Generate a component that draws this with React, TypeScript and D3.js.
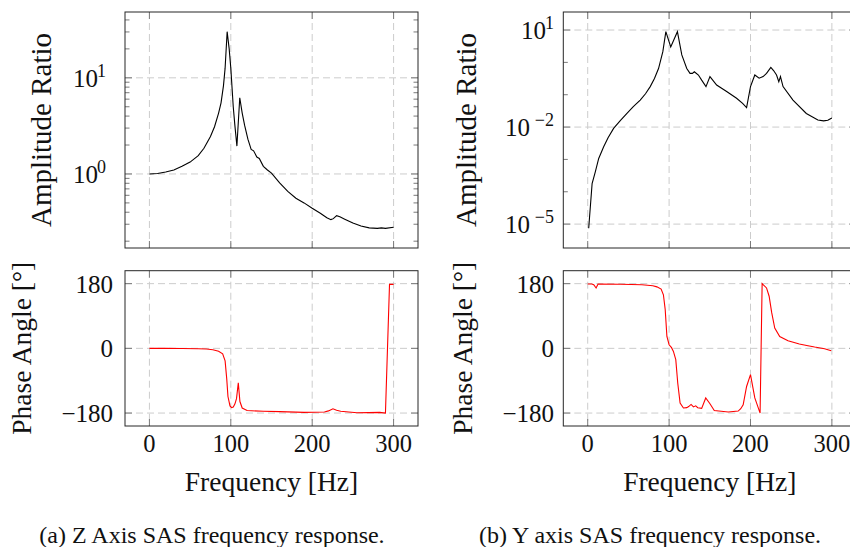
import React from "react";
import * as d3 from "d3";

// ---------- data ----------
const xTicks = [0, 100, 200, 300];
const phaseTicks = [-180, 0, 180];
const zAmpTickExps = [0, 1];
const yAmpTickExps = [-5, -2, 1];

// Z axis amplitude
const zAmpFreq = [0, 10, 20, 30, 40, 50, 60, 67, 75, 80, 85, 88, 91, 93, 95.5, 98, 100, 103, 105, 107.5, 111, 114, 117, 121, 125, 128, 132, 135, 140, 145, 150, 160, 170, 180, 190, 200, 210, 218, 223, 226, 230, 234, 240, 250, 260, 270, 280, 285, 290, 300];
const zAmp = [1.0, 1.01, 1.05, 1.1, 1.2, 1.33, 1.55, 1.85, 2.45, 3.1, 4.3, 5.5, 8.3, 12.6, 30.2, 20, 12.6, 5.0, 3.2, 1.95, 6.2, 4.3, 3.2, 2.3, 1.8, 1.74, 1.5, 1.45, 1.2, 1.1, 1.02, 0.81, 0.66, 0.56, 0.5, 0.44, 0.39, 0.35, 0.335, 0.343, 0.368, 0.359, 0.339, 0.309, 0.288, 0.275, 0.272, 0.275, 0.272, 0.279];

// Z axis phase
const zPhaseFreq = [0, 20, 40, 60, 70, 78, 85, 90, 93, 95, 96.5, 99, 101, 103, 105, 107, 109.2, 111.2, 114, 120, 140, 160, 190, 215, 220, 225.5, 230, 235, 255, 283, 290, 295, 300];
const zPhase = [0, -0.2, -0.5, -1, -2, -4, -8, -15, -35, -85, -134, -160, -165, -163, -155, -140, -96, -148, -166, -173, -175, -176, -178, -177, -174, -168, -172, -175, -179, -178, -180, 178, 178];

// Y axis amplitude
const yAmpFreq = [1.2, 5.4, 9.4, 13.5, 19.6, 25, 31.8, 40, 48.2, 56, 64.5, 71, 76.8, 82, 87, 92.3, 96, 102, 110.2, 115.6, 121.7, 125.7, 128.6, 131, 136, 140, 145.3, 150.2, 158.4, 170.7, 182.9, 190.3, 195.2, 200, 205.3, 210.6, 215.5, 219.7, 225, 228.6, 232, 234.8, 236.8, 240, 252.2, 268.6, 282.8, 289.8, 295, 300];
const yAmp = [7.4e-6, 1.8e-4, 4.2e-4, 1.07e-3, 2.45e-3, 4.7e-3, 9.1e-3, 0.0158, 0.0263, 0.0427, 0.0684, 0.107, 0.178, 0.316, 0.646, 2.14, 8.9, 3.0, 8.9, 1.7, 0.646, 0.457, 0.457, 0.513, 0.407, 0.282, 0.178, 0.363, 0.2, 0.126, 0.0776, 0.0537, 0.0398, 0.178, 0.407, 0.324, 0.363, 0.457, 0.7, 0.55, 0.407, 0.251, 0.363, 0.178, 0.0684, 0.0263, 0.0166, 0.0155, 0.0162, 0.019];

// Y axis phase
const yPhaseFreq = [0, 5, 7.4, 10.3, 12.7, 40, 66.6, 80, 85, 90.2, 93, 95.2, 97.3, 100, 103, 105.3, 108.2, 110.6, 113.5, 117.6, 121.7, 124, 127, 129.9, 132.7, 135.2, 140, 145, 150.2, 155.5, 172.6, 184.9, 188, 191, 195.2, 200, 205.3, 211.8, 214.3, 219.7, 222.9, 226, 229.8, 235.9, 246.1, 260, 270.6, 278.8, 291, 299.2];
const yPhase = [179, 179, 177, 168, 179, 178.5, 177, 174, 171, 165, 149, 108, 33, 10, 2, -8.5, -31.6, -96.5, -152, -166, -165, -162, -156, -163, -160, -165, -167, -138, -154, -173, -177, -174.5, -168, -157, -106, -73, -138, -180, 180, 168, 145, 100, 56.6, 33, 21, 12, 7.4, 3.7, -1, -6.5];

const ampLabel = "Amplitude Ratio";
const phaseLabel = "Phase Angle [°]";
const xLabel = "Frequency [Hz]";
const captions = ["(a) Z Axis SAS frequency response.", "(b) Y axis SAS frequency response."];

// ---------- layout ----------
const W = 850, H = 547;
const FONT = "Liberation Serif";
const GRID = "#cccccc";
const TICK = "#7a7a7a";
const FRAME = "#262626";

type Col = {
  x0: number; x1: number;
  ampF: number[]; amp: number[]; ampExps: number[]; minorEveryDecade: boolean;
  phF: number[]; ph: number[];
  ampTickRight: number; phTickRight: number;
  ampLabelX: number; phLabelX: number;
  caption: string; captionX: number;
};

const cols: Col[] = [
  { x0: 125, x1: 418, ampF: zAmpFreq, amp: zAmp, ampExps: zAmpTickExps, minorEveryDecade: true,
    phF: zPhaseFreq, ph: zPhase, ampTickRight: 106, phTickRight: 113, ampLabelX: 51, phLabelX: 31,
    caption: captions[0], captionX: 212 },
  { x0: 563.3, x1: 856.3, ampF: yAmpFreq, amp: yAmp, ampExps: yAmpTickExps, minorEveryDecade: false,
    phF: yPhaseFreq, ph: yPhase, ampTickRight: 554, phTickRight: 554, ampLabelX: 476, phLabelX: 472,
    caption: captions[1], captionX: 650 },
];

const TOP = { y0: 12, y1: 248 };
const BOT = { y0: 270.7, y1: 426 };

function T(props: any) {
  const { children, ...rest } = props;
  return (
    <text fontFamily={FONT} fill="#111" {...rest}>
      {children}
    </text>
  );
}

function Panel({ c }: { c: Col }) {
  const x = d3.scaleLinear().domain([-30, 330]).range([c.x0, c.x1]);
  const lmin = Math.log10(d3.min(c.amp)!);
  const lmax = Math.log10(d3.max(c.amp)!);
  const pad = (lmax - lmin) * 0.1;
  const ya = d3.scaleLog().domain([Math.pow(10, lmin - pad), Math.pow(10, lmax + pad)]).range([TOP.y1, TOP.y0]);
  const yp = d3.scaleLinear().domain([-216, 216]).range([BOT.y1, BOT.y0]);

  const ampLine = d3.line<number>().x((_, i) => x(c.ampF[i])).y((d) => ya(d));
  const phLine = d3.line<number>().x((_, i) => x(c.phF[i])).y((d) => yp(d));

  const minors: number[] = [];
  const [dlo, dhi] = ya.domain();
  for (let e = Math.floor(Math.log10(dlo)); e <= Math.ceil(Math.log10(dhi)); e++) {
    if (c.minorEveryDecade) {
      for (let m = 2; m <= 9; m++) {
        const v = m * Math.pow(10, e);
        if (v > dlo && v < dhi) minors.push(v);
      }
    } else {
      const v = Math.pow(10, e);
      if (v > dlo && v < dhi && !c.ampExps.includes(e)) minors.push(v);
    }
  }

  const clipW = Math.min(c.x1, W + 20);
  const mT = 7, mN = 4.5;

  const xGrid = (y0: number, y1: number) =>
    xTicks.map((t) => (
      <g key={"xg" + t}>
        <line x1={x(t)} x2={x(t)} y1={y0} y2={y1} stroke={GRID} strokeDasharray="7,4" />
        <line x1={x(t)} x2={x(t)} y1={y0} y2={y0 + mT} stroke={TICK} />
        <line x1={x(t)} x2={x(t)} y1={y1} y2={y1 - mT} stroke={TICK} />
      </g>
    ));

  return (
    <g>
      {xGrid(TOP.y0, TOP.y1)}
      {c.ampExps.map((e) => {
        const yy = ya(Math.pow(10, e));
        const sup = e < 0 ? "\u2212" + Math.abs(e) : String(e);
        const supW = e < 0 ? 24 : 8;
        return (
          <g key={"ay" + e}>
            <line x1={c.x0} x2={clipW} y1={yy} y2={yy} stroke={GRID} strokeDasharray="7,4" />
            <line x1={c.x0} x2={c.x0 + mT} y1={yy} y2={yy} stroke={TICK} />
            <line x1={c.x1} x2={c.x1 - mT} y1={yy} y2={yy} stroke={TICK} />
            <T x={c.ampTickRight} y={yy - 1} fontSize={18} textAnchor="end">{sup}</T>
            <T x={c.ampTickRight - supW} y={yy + 9} fontSize={25} textAnchor="end">10</T>
          </g>
        );
      })}
      {minors.map((v, i) => (
        <g key={"mn" + i}>
          <line x1={c.x0} x2={c.x0 + mN} y1={ya(v)} y2={ya(v)} stroke={TICK} />
          <line x1={c.x1} x2={c.x1 - mN} y1={ya(v)} y2={ya(v)} stroke={TICK} />
        </g>
      ))}
      <path d={ampLine(c.amp)!} fill="none" stroke="#000" strokeWidth={1.1} />
      <rect x={c.x0} y={TOP.y0} width={c.x1 - c.x0} height={TOP.y1 - TOP.y0} fill="none" stroke={FRAME} strokeWidth={1} />
      <T transform={`translate(${c.ampLabelX},${(TOP.y0 + TOP.y1) / 2}) rotate(-90)`} textAnchor="middle"
        fontSize={29}>{ampLabel}</T>

      {xGrid(BOT.y0, BOT.y1)}
      {phaseTicks.map((t) => {
        const s = t < 0 ? "\u2212" + Math.abs(t) : String(t);
        return (
          <g key={"py" + t}>
            <line x1={c.x0} x2={clipW} y1={yp(t)} y2={yp(t)} stroke={GRID} strokeDasharray="7,4" />
            <line x1={c.x0} x2={c.x0 + mT} y1={yp(t)} y2={yp(t)} stroke={TICK} />
            <line x1={c.x1} x2={c.x1 - mT} y1={yp(t)} y2={yp(t)} stroke={TICK} />
            <T x={c.phTickRight} y={yp(t) + 9} fontSize={25} textAnchor="end">{s}</T>
          </g>
        );
      })}
      <path d={phLine(c.ph)!} fill="none" stroke="#ff0000" strokeWidth={1.1} />
      <rect x={c.x0} y={BOT.y0} width={c.x1 - c.x0} height={BOT.y1 - BOT.y0} fill="none" stroke={FRAME} strokeWidth={1} />
      <T transform={`translate(${c.phLabelX},${(BOT.y0 + BOT.y1) / 2}) rotate(-90)`} textAnchor="middle"
        fontSize={27.5}>{phaseLabel}</T>

      {xTicks.map((t) => (
        <T key={"xl" + t} x={x(t)} y={452} fontSize={24.5} textAnchor="middle">{t}</T>
      ))}
      <T x={(c.x0 + c.x1) / 2} y={491} fontSize={27.5} textAnchor="middle">{xLabel}</T>
      <T x={c.captionX} y={543} fontSize={24} textAnchor="middle">{c.caption}</T>
    </g>
  );
}

export default function App() {
  return (
    <svg width={W} height={H} viewBox={`0 0 ${W} ${H}`}
      style={{ position: "absolute", left: 0, top: 0, background: "#fff" }}>
      <rect width={W} height={H} fill="#fff" />
      {cols.map((c, i) => <Panel key={i} c={c} />)}
    </svg>
  );
}
